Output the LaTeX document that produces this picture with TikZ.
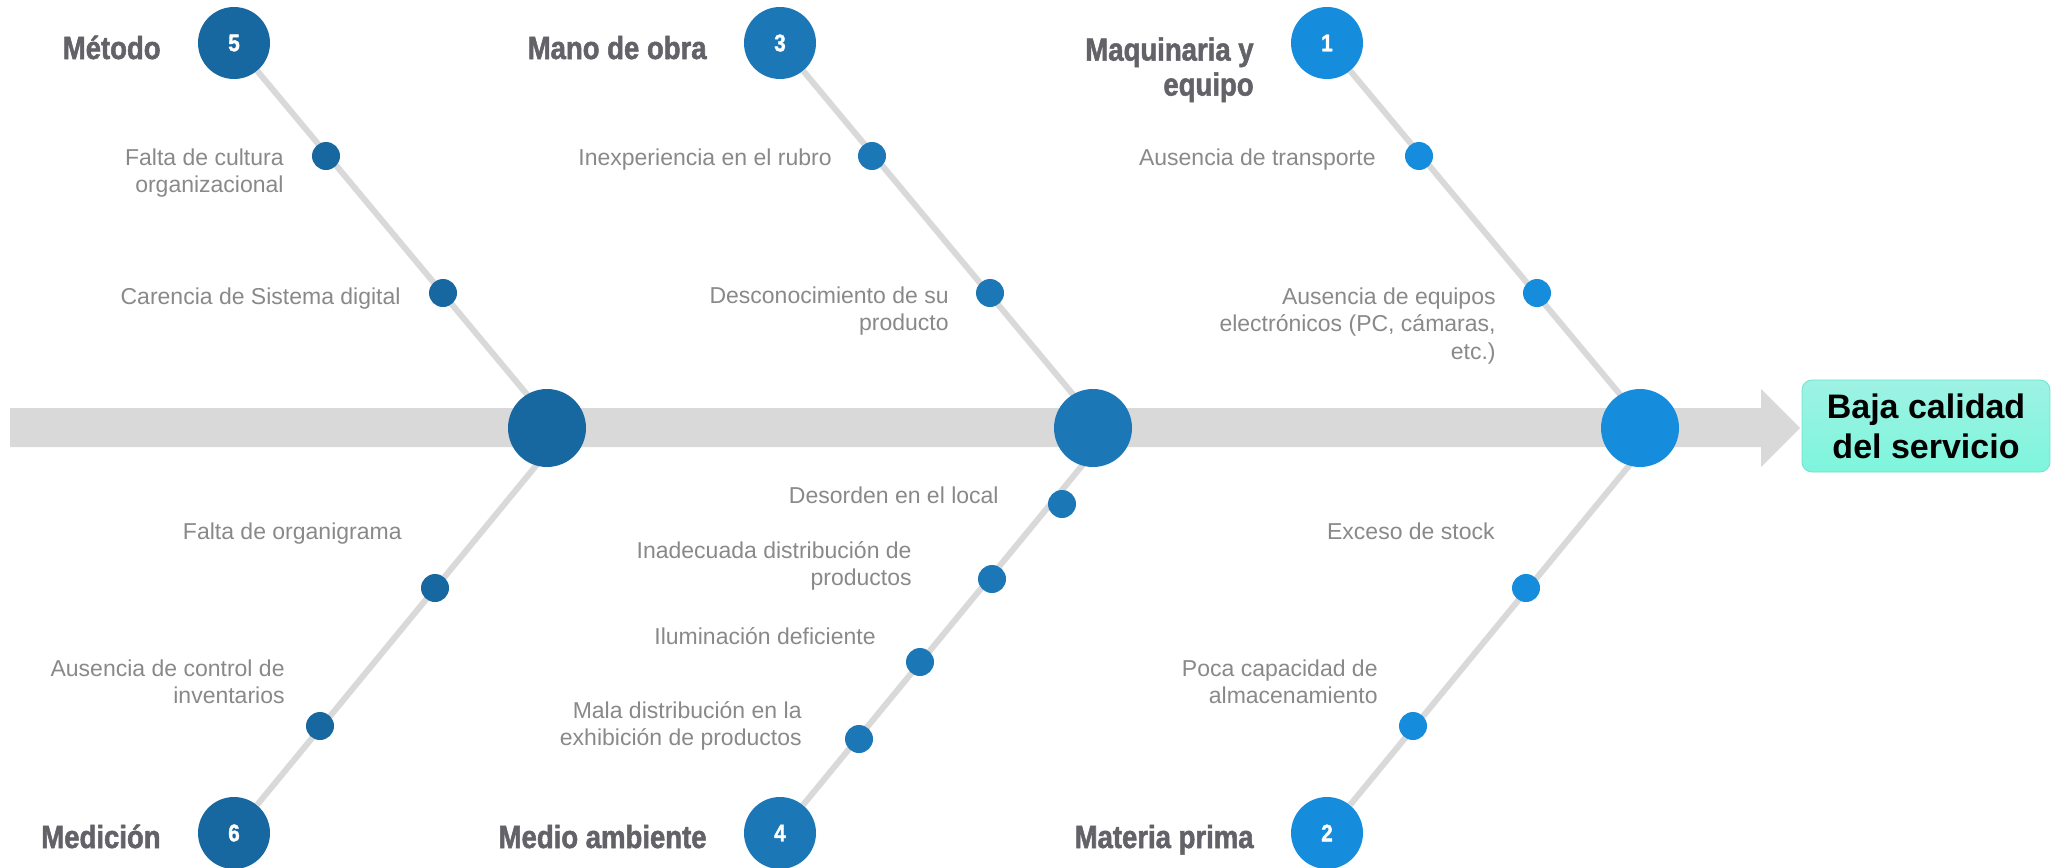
\documentclass[tikz,border=0pt]{standalone}
\usepackage{fontspec}
\setmainfont{Liberation Sans}
\newfontfamily\catfont[FakeStretch=0.86,BoldFeatures={FakeBold=1.6}]{Liberation Sans}
\usepackage{tikz}
\usepackage{color}
\definecolor{azuloscuro}{RGB}{23, 103, 160}
\definecolor{azulmedio}{RGB}{28, 119, 183}
\definecolor{azulclaro}{RGB}{21, 140, 220}
\definecolor{grisbanda}{RGB}{217, 217, 217}
\definecolor{gristexto}{RGB}{137, 137, 137}
\definecolor{griscateg}{RGB}{99, 98, 104}
\definecolor{aguatop}{RGB}{158, 242, 228}
\definecolor{aguabot}{RGB}{126, 245, 220}
\pgfdeclarelayer{fondo}
\pgfsetlayers{fondo,main}

\begin{document}
\begin{tikzpicture}[x=0.5pt, y=-0.5pt,
        bone/.style={draw=grisbanda, line width=3pt},
        joint/.style={circle, inner sep=0pt, minimum size=39pt},
        numcirc/.style={circle, inner sep=0pt, minimum size=36pt, text=white,
            font=\catfont\bfseries\fontsize{12}{12}\selectfont},
        causedot/.style={circle, inner sep=0pt, minimum size=14pt},
        cause/.style={text=gristexto, font=\fontsize{11.5}{13.75}\selectfont,
            align=right, anchor=north east, inner sep=0pt},
        categ/.style={text=griscateg, font=\catfont\bfseries\fontsize{16}{17.5}\selectfont,
            align=right, inner sep=0pt, anchor=base east}]
    \useasboundingbox (0,0) rectangle (2060,867);

    % espina central y efecto
    \begin{pgfonlayer}{fondo}
        \fill[grisbanda] (10,408) -- (1761,408) -- (1761,389) -- (1800,428)
            -- (1761,467) -- (1761,447) -- (10,447) -- cycle;
    \end{pgfonlayer}
    \node[rounded corners=5pt, draw=aguabot!85!teal, line width=0.4pt,
          top color=aguatop, bottom color=aguabot,
          minimum width=124pt, minimum height=46pt, inner sep=0pt,
          align=center, font=\bfseries\fontsize{17}{20}\selectfont] (efecto) at (1926,426)
          {Baja calidad\\del servicio};

    % uniones sobre la espina
    \node[joint, fill=azuloscuro] (j1) at ( 547,428) {};
    \node[joint, fill=azulmedio]  (j2) at (1093,428) {};
    \node[joint, fill=azulclaro]  (j3) at (1640,428) {};

    % categorias
    \node[numcirc, fill=azuloscuro] (metodo)     at ( 234, 43) {5};
    \node[numcirc, fill=azulmedio]  (manoobra)   at ( 780, 43) {3};
    \node[numcirc, fill=azulclaro]  (maquinaria) at (1327, 43) {1};
    \node[numcirc, fill=azuloscuro] (medicion)   at ( 234,833) {6};
    \node[numcirc, fill=azulmedio]  (ambiente)   at ( 780,833) {4};
    \node[numcirc, fill=azulclaro]  (materia)    at (1327,833) {2};

    \node[categ] (tmetodo)   at ( 161, 59) {Método};
    \node[categ] (tmano)     at ( 707, 59) {Mano de obra};
    \node[categ, anchor=north east] (tmaquinaria) at (1254, 37) {Maquinaria y\\equipo};
    \node[categ] (tmedicion) at ( 161,848) {Medición};
    \node[categ] (tambiente) at ( 707,848) {Medio ambiente};
    \node[categ] (tmateria)  at (1254,848) {Materia prima};

    % huesos
    \begin{pgfonlayer}{fondo}
        \draw[bone] (metodo)     -- ([xshift=4pt]j1.center);
        \draw[bone] (manoobra)   -- ([xshift=4pt]j2.center);
        \draw[bone] (maquinaria) -- ([xshift=4pt]j3.center);
        \draw[bone] (medicion)   -- ([xshift=10pt]j1.center);
        \draw[bone] (ambiente)   -- ([xshift=10pt]j2.center);
        \draw[bone] (materia)    -- ([xshift=10pt]j3.center);
    \end{pgfonlayer}

    % causas
    \node[causedot, fill=azuloscuro] (d51) at ( 326,156) {};
    \node[causedot, fill=azuloscuro] (d52) at ( 443,293) {};
    \node[causedot, fill=azuloscuro] (d61) at ( 435,588) {};
    \node[causedot, fill=azuloscuro] (d62) at ( 320,726) {};
    \node[causedot, fill=azulmedio]  (d31) at ( 872,156) {};
    \node[causedot, fill=azulmedio]  (d32) at ( 990,293) {};
    \node[causedot, fill=azulmedio]  (d41) at (1062,504) {};
    \node[causedot, fill=azulmedio]  (d42) at ( 992,579) {};
    \node[causedot, fill=azulmedio]  (d43) at ( 920,662) {};
    \node[causedot, fill=azulmedio]  (d44) at ( 859,739) {};
    \node[causedot, fill=azulclaro]  (d11) at (1419,156) {};
    \node[causedot, fill=azulclaro]  (d12) at (1537,293) {};
    \node[causedot, fill=azulclaro]  (d21) at (1526,588) {};
    \node[causedot, fill=azulclaro]  (d22) at (1413,726) {};

    \node[cause] (c51) at ( 284,148) {Falta de cultura\\organizacional};
    \node[cause] (c52) at ( 401,287) {Carencia de Sistema digital};
    \node[cause] (c61) at ( 402,522) {Falta de organigrama};
    \node[cause] (c62) at ( 285,659) {Ausencia de control de\\inventarios};
    \node[cause] (c31) at ( 832,148) {Inexperiencia en el rubro};
    \node[cause] (c32) at ( 949,286) {Desconocimiento de su\\producto};
    \node[cause] (c41) at ( 999,486) {Desorden en el local};
    \node[cause] (c42) at ( 912,541) {Inadecuada distribución de\\productos};
    \node[cause] (c43) at ( 876,627) {Iluminación deficiente};
    \node[cause] (c44) at ( 802,701) {Mala distribución en la\\exhibición de productos};
    \node[cause] (c11) at (1376,148) {Ausencia de transporte};
    \node[cause] (c12) at (1496,287) {Ausencia de equipos\\electrónicos (PC, cámaras,\\etc.)};
    \node[cause] (c21) at (1495,522) {Exceso de stock};
    \node[cause] (c22) at (1378,659) {Poca capacidad de\\almacenamiento};
\end{tikzpicture}
\end{document}
